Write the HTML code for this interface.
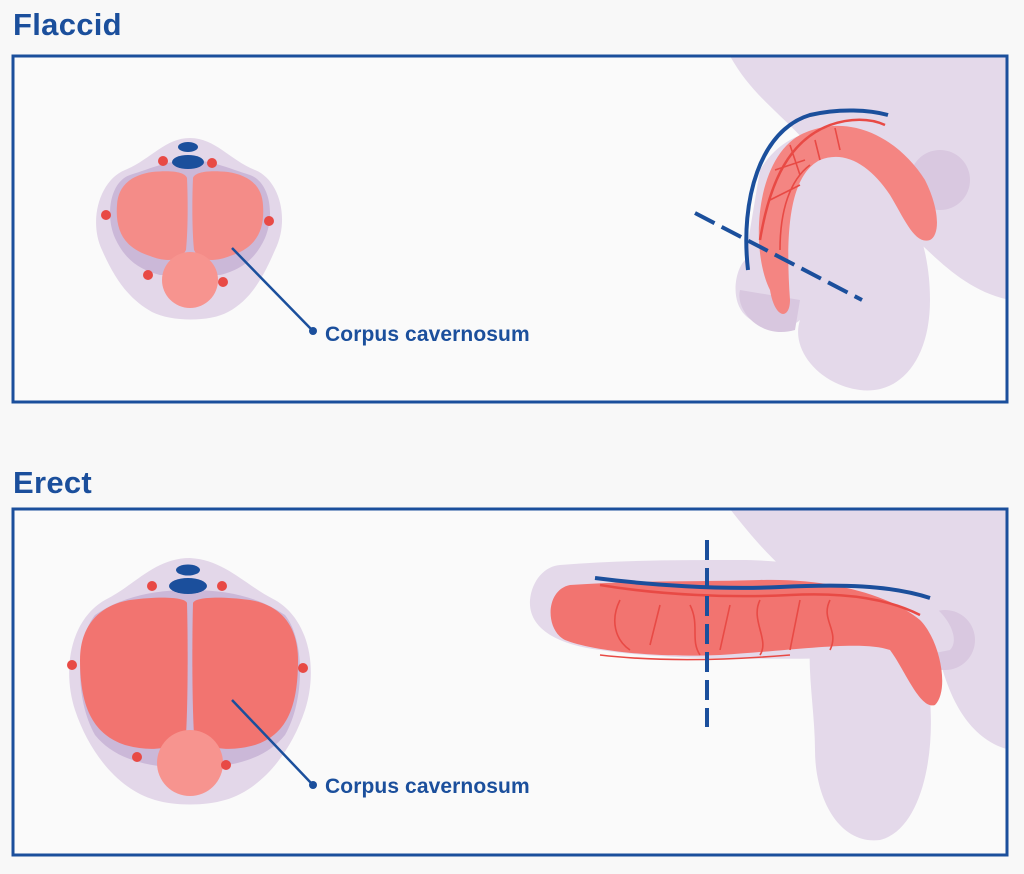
<!DOCTYPE html>
<html><head><meta charset="utf-8"><style>
html,body{margin:0;padding:0;background:#f8f8f8;}
body{width:1024px;height:869px;overflow:hidden;}
text{font-family:"Liberation Sans",sans-serif;}
</style></head><body>
<svg width="1024" height="869" viewBox="0 0 1024 869" xmlns="http://www.w3.org/2000/svg">
<rect width="1024" height="869" fill="#f8f8f8"/>
<text x="13" y="35" font-size="31" font-weight="bold" fill="#1b4f9c" letter-spacing="0.3">Flaccid</text>
<text x="13" y="493" font-size="31" font-weight="bold" fill="#1b4f9c" letter-spacing="0.3">Erect</text>

<g>
<clipPath id="c1"><rect x="13" y="56" width="994" height="346"/></clipPath>
<rect x="13" y="56" width="994" height="346" fill="#fafafa"/>
<g clip-path="url(#c1)">
 <path d="M730 56 L1010 56 L1010 300 C960 290 930 250 900 225 C880 210 870 205 860 210 C800 120 760 110 730 56Z" fill="#e4d9ea"/>
 <path d="M760 170 C790 120 850 120 880 160 C920 210 930 260 930 300 C930 360 900 395 860 390 C820 385 790 350 800 320 C790 330 760 330 745 315 C730 300 735 270 745 260 Z" fill="#e4d9ea"/>
 <circle cx="940" cy="180" r="30" fill="#d9c8e0"/>
 <path d="M740 290 C735 310 760 340 795 330 L800 300 Z" fill="#d8c7df"/>
 <path d="M770 290 C750 250 755 160 800 135 C850 110 900 140 925 180 C940 210 940 235 930 240 C915 245 905 220 890 195 C870 165 845 150 820 160 C790 175 785 230 790 300 C790 320 775 320 770 290Z" fill="#f48582"/>
 <path d="M748 270 C740 200 760 130 810 115 C840 108 870 110 888 115" fill="none" stroke="#1b4f9c" stroke-width="4"/>
 <path d="M760 240 C770 180 790 140 830 125 C850 118 870 118 885 125" fill="none" stroke="#e84a45" stroke-width="2.5"/>
 <path d="M780 250 C780 210 790 180 810 165 M770 200 L800 185 M775 170 L805 160 M790 145 L800 175 M815 140 L820 160 M835 128 L840 150" fill="none" stroke="#e84a45" stroke-width="1.6"/>
 <line x1="695" y1="213" x2="862" y2="300" stroke="#1b4f9c" stroke-width="4" stroke-dasharray="22,8"/>
</g>
<rect x="13" y="56" width="994" height="346" fill="none" stroke="#1b4f9c" stroke-width="3"/>
</g>

<path d="M190 138 C215 138 230 160 255 170 C280 180 290 220 275 250 C262 280 250 300 228 312 C210 322 172 322 152 312 C130 300 115 280 102 250 C88 220 100 180 125 170 C150 160 165 138 190 138Z" fill="#e3d7e9"/>
<path d="M190 160 C210 160 228 168 250 175 C270 182 275 215 265 238 C255 260 240 270 220 275 L160 275 C140 270 125 260 115 238 C105 215 110 182 130 175 C152 168 170 160 190 160Z" fill="#cbb8d8"/>
<path d="M187 178 C188 200 188 230 186 250 C180 262 165 262 150 256 C125 248 115 232 117 205 C118 185 132 175 152 172 C172 170 185 172 187 178Z" fill="#f48c88"/>
<path d="M193 178 C192 200 192 230 194 250 C200 262 215 262 230 256 C255 248 265 232 263 205 C262 185 248 175 228 172 C208 170 195 172 193 178Z" fill="#f48c88"/>
<circle cx="190" cy="280" r="28" fill="#f7948f"/>
<ellipse cx="188" cy="147" rx="10" ry="5" fill="#1b4f9c"/>
<ellipse cx="188" cy="162" rx="16" ry="7" fill="#1b4f9c"/>
<g fill="#e84a45"><circle cx="163" cy="161" r="5"/><circle cx="212" cy="163" r="5"/><circle cx="106" cy="215" r="5"/><circle cx="269" cy="221" r="5"/><circle cx="148" cy="275" r="5"/><circle cx="223" cy="282" r="5"/></g>
<line x1="232" y1="248" x2="312" y2="330" stroke="#1b4f9c" stroke-width="2.5"/>
<circle cx="313" cy="331" r="4" fill="#1b4f9c"/>
<text x="325" y="341" font-size="21" font-weight="bold" fill="#1b4f9c" letter-spacing="0.1">Corpus cavernosum</text>

<g>
<clipPath id="c2"><rect x="13" y="509" width="994" height="346"/></clipPath>
<rect x="13" y="509" width="994" height="346" fill="#fafafa"/>
<g clip-path="url(#c2)">
 <path d="M730 509 L1010 509 L1010 750 C970 740 950 700 940 660 C920 600 880 590 840 600 C800 590 770 560 730 509Z" fill="#e4d9ea"/>
 <path d="M820 600 C870 590 920 620 930 700 C935 760 920 830 880 840 C840 845 815 800 815 750 C815 700 800 640 820 600Z" fill="#e4d9ea"/>
 <circle cx="945" cy="640" r="30" fill="#d9c8e0"/>
 <path d="M560 565 C620 560 680 560 740 560 C800 560 880 575 925 600 C950 615 960 640 950 650 L900 660 C850 655 700 665 600 650 C560 645 528 630 530 600 C532 580 545 566 560 565Z" fill="#e4d9ea"/>
 <path d="M570 585 C640 580 700 582 760 580 C830 578 890 595 920 620 C940 640 950 690 935 705 C920 710 905 670 890 650 C860 640 800 650 720 655 C650 658 590 650 565 640 C545 630 545 590 570 585Z" fill="#f27470"/>
 <path d="M595 578 C650 585 720 590 780 587 C840 584 890 585 930 598" fill="none" stroke="#1b4f9c" stroke-width="4"/>
 <path d="M600 585 C660 595 730 598 790 595 C850 592 890 600 920 615" fill="none" stroke="#e84a45" stroke-width="2.5"/>
 <path d="M600 655 C660 662 730 660 790 655 M620 600 C610 620 615 640 630 650 M660 605 L650 645 M690 605 C700 625 690 640 700 655 M730 605 L720 650 M760 600 C750 620 770 640 760 655 M800 600 L790 650 M830 600 C820 620 840 630 830 650" fill="none" stroke="#e84a45" stroke-width="1.6"/>
 <line x1="707" y1="540" x2="707" y2="727" stroke="#1b4f9c" stroke-width="4" stroke-dasharray="20,8"/>
</g>
<rect x="13" y="509" width="994" height="346" fill="none" stroke="#1b4f9c" stroke-width="3"/>
</g>

<path d="M190 558 C225 560 245 585 275 600 C310 620 318 670 305 710 C290 755 260 790 225 800 C205 806 175 806 155 800 C120 790 90 755 75 710 C62 670 70 620 105 600 C135 585 155 558 190 558Z" fill="#e3d7e9"/>
<path d="M190 590 C230 590 260 598 285 615 C305 640 305 700 285 735 C265 760 230 768 190 768 C150 768 115 760 95 735 C75 700 75 640 95 615 C120 598 150 590 190 590Z" fill="#cbb8d8"/>
<path d="M187 603 C188 640 188 700 186 735 C175 750 150 752 125 745 C95 735 80 710 80 660 C80 625 100 605 130 600 C160 596 185 597 187 603Z" fill="#f27470"/>
<path d="M193 603 C192 640 192 700 194 735 C205 750 230 752 255 745 C285 735 298 710 298 660 C298 625 280 605 250 600 C220 596 195 597 193 603Z" fill="#f27470"/>
<circle cx="190" cy="763" r="33" fill="#f7948f"/>
<ellipse cx="188" cy="570" rx="12" ry="5.5" fill="#1b4f9c"/>
<ellipse cx="188" cy="586" rx="19" ry="8" fill="#1b4f9c"/>
<g fill="#e84a45"><circle cx="152" cy="586" r="5"/><circle cx="222" cy="586" r="5"/><circle cx="72" cy="665" r="5"/><circle cx="303" cy="668" r="5"/><circle cx="137" cy="757" r="5"/><circle cx="226" cy="765" r="5"/></g>
<line x1="232" y1="700" x2="312" y2="784" stroke="#1b4f9c" stroke-width="2.5"/>
<circle cx="313" cy="785" r="4" fill="#1b4f9c"/>
<text x="325" y="793" font-size="21" font-weight="bold" fill="#1b4f9c" letter-spacing="0.1">Corpus cavernosum</text>
</svg>
</body></html>
